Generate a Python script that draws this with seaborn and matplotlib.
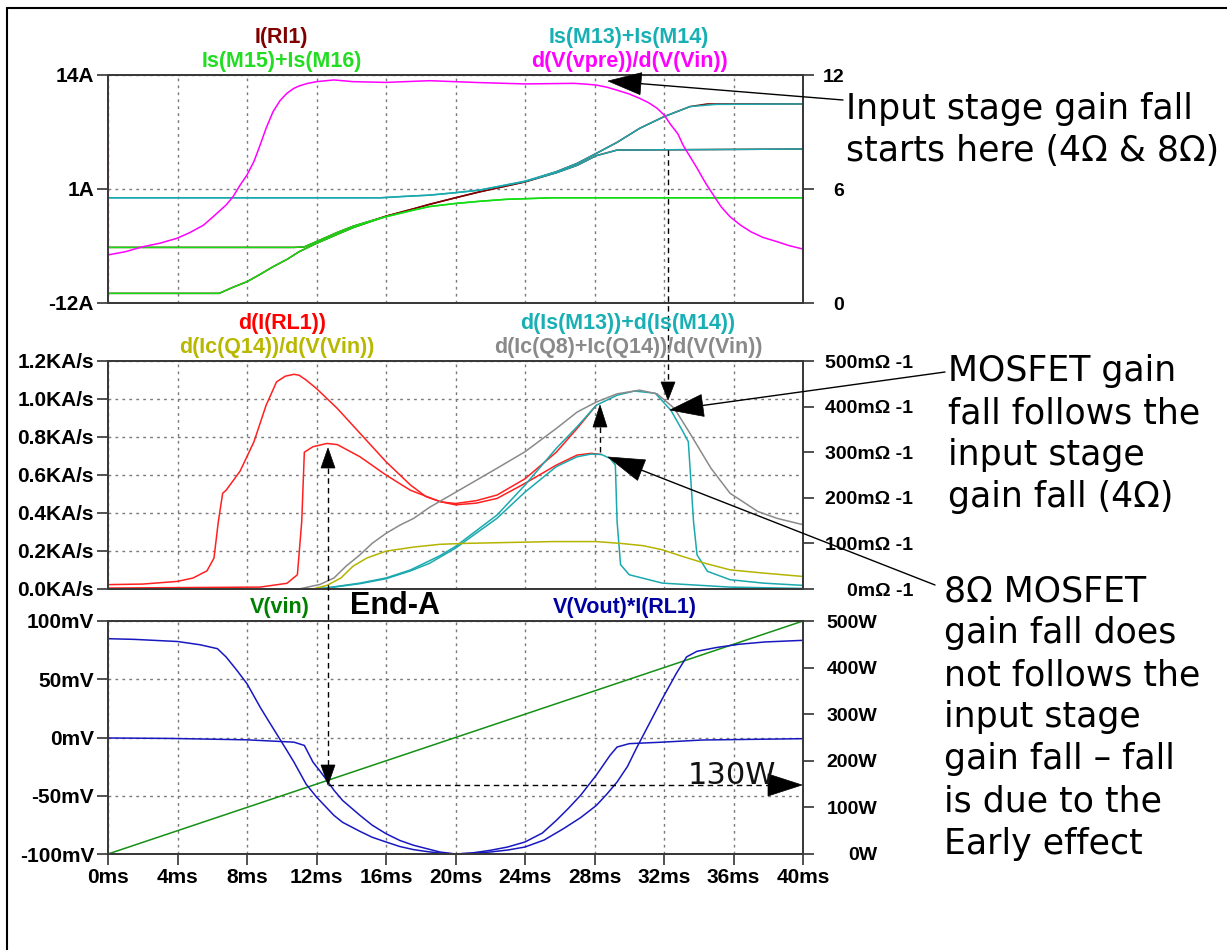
import numpy as np
import pandas as pd
import matplotlib
matplotlib.use("Agg")
import matplotlib.pyplot as plt
import seaborn as sns
from matplotlib.lines import Line2D
from matplotlib.patches import Polygon

# ---------------- data (time in ms) ----------------
# top pane, currents in A (left axis)
t_irl1_4 = [0, 6.4, 7.2, 8.0, 8.75, 9.5, 10.3, 11.0, 12.0, 13.2, 14.1, 15.1, 16.0, 17.6, 18.5, 20.0,
            21.4, 24.0, 25.8, 27.0, 28.1, 29.3, 30.6, 32.0, 33.5, 34.5, 40]
irl1_4 = [-10.9, -10.9, -10.2, -9.57, -8.74, -7.86, -7.03, -6.15, -5.2, -4.17, -3.41, -2.73, -2.1, -1.25,
          -0.75, 0.0, 0.68, 1.83, 2.97, 3.92, 5.06, 6.32, 7.92, 9.25, 10.4, 10.7, 10.7]
t_irl1_8 = [0, 10.7, 11.3, 12.0, 13.2, 14.1, 15.1, 16.0, 17.6, 18.5, 20.0, 21.4, 24.0, 25.8, 27.0, 28.1, 29.3, 40]
irl1_8 = [-5.66, -5.66, -5.6, -5.0, -3.95, -3.25, -2.65, -2.1, -1.25, -0.75, 0.0, 0.68, 1.8, 2.85, 3.7,
          4.8, 5.44, 5.56]

t_m1516_4 = [0, 6.4, 7.2, 8.0, 8.75, 9.5, 10.3, 11.0, 12.0, 13.2, 14.1, 15.1, 16.0, 17.6, 18.5, 20.0,
             21.4, 22.9, 25.6, 40]
m1516_4 = [-10.9, -10.9, -10.2, -9.57, -8.74, -7.86, -7.03, -6.15, -5.2, -4.17, -3.41, -2.73, -2.16, -1.4,
           -1.0, -0.65, -0.4, -0.18, 0.0, 0.0]
t_m1516_8 = [0, 10.7, 11.3, 12.0, 13.2, 14.1, 15.1, 16.0, 17.6, 18.5, 20.0, 21.4, 22.9, 25.6, 40]
m1516_8 = [-5.66, -5.66, -5.6, -5.0, -3.95, -3.25, -2.65, -2.16, -1.4, -1.0, -0.65, -0.4, -0.18, 0.0, 0.0]

t_m1314_4 = [0, 15.7, 17.0, 18.5, 20.0, 21.4, 24.0, 25.8, 27.0, 28.1, 29.3, 30.6, 32.0, 33.5, 35.0, 40]
m1314_4 = [0.0, 0.0, 0.15, 0.3, 0.58, 0.88, 1.9, 2.97, 3.92, 5.06, 6.32, 7.92, 9.25, 10.4, 10.65, 10.7]
t_m1314_8 = [0, 15.7, 17.0, 18.5, 20.0, 21.4, 24.0, 25.8, 27.0, 28.1, 29.3, 40]
m1314_8 = [0.0, 0.0, 0.15, 0.3, 0.58, 0.88, 1.85, 2.85, 3.7, 4.8, 5.44, 5.56]

# top pane, gain d(V(vpre))/d(V(Vin)) (right axis)
t_gain = [0, 0, 0, 1.0, 2.0, 3.0, 3.95, 4.7, 5.5, 6.0, 6.8, 7.2, 7.6, 8.0, 8.4, 8.75, 9.1, 9.5, 9.9,
          10.3, 10.7, 11.05, 11.5, 12.0, 13.0, 14.1, 16.0, 18.5, 21.4, 24.0, 26.8, 27.5, 28.1, 28.7, 29.3,
          30.0, 30.6, 31.1, 31.6, 32.0, 32.4, 32.8, 33.1, 33.5, 33.9, 34.4, 34.9, 35.3, 35.8, 36.4, 37.0,
          37.7, 38.5, 39.2, 40.0]
gain = [0, 8.5, 2.53, 2.7, 2.96, 3.15, 3.4, 3.7, 4.1, 4.5, 5.16, 5.6, 6.2, 6.74, 7.45, 8.3, 9.2, 10.07,
        10.65, 11.04, 11.3, 11.44, 11.56, 11.65, 11.74, 11.65, 11.61, 11.7, 11.6, 11.53, 11.56, 11.52,
        11.47, 11.36, 11.2, 11.0, 10.77, 10.55, 10.25, 9.9, 9.37, 8.9, 8.3, 7.7, 7.1, 6.3, 5.6, 5.05, 4.54,
        4.1, 3.75, 3.45, 3.23, 3.02, 2.84]

# middle pane, KA/s (left axis)
t_dirl_4 = [0, 0, 2.0, 4.0, 4.9, 5.7, 6.1, 6.35, 6.6, 6.8, 7.6, 8.4, 9.1, 9.7, 10.2, 10.7, 11.0, 11.4,
            12.0, 13.2, 14.5, 16.0, 17.4, 18.3, 19.2, 20.0, 21.2, 22.4, 24.0, 25.8, 27.0, 28.1]
dirl_4 = [0.41, 0.023, 0.026, 0.04, 0.058, 0.096, 0.163, 0.355, 0.504, 0.52, 0.62, 0.775, 0.967, 1.09,
          1.12, 1.13, 1.125, 1.10, 1.055, 0.95, 0.82, 0.67, 0.548, 0.486, 0.458, 0.45, 0.465, 0.495, 0.58,
          0.72, 0.845, 0.967]
t_dirl_8 = [0, 8.75, 10.3, 10.9, 11.15, 11.3, 11.8, 12.6, 13.2, 14.5, 16.0, 17.4, 19.1, 20.0, 21.2, 22.4,
            24.0, 25.8, 27.0, 27.8, 28.4]
dirl_8 = [0.005, 0.01, 0.03, 0.075, 0.355, 0.72, 0.749, 0.766, 0.76, 0.696, 0.6, 0.52, 0.46, 0.443,
          0.452, 0.477, 0.556, 0.652, 0.705, 0.714, 0.708]
t_dm_4 = [0, 11.8, 12.6, 14.5, 16.0, 17.4, 19.1, 20.0, 22.4, 24.0, 25.8, 27.0, 28.1, 29.3, 30.3, 31.5,
          31.9, 32.4, 33.1, 33.4, 33.7, 33.9, 34.5, 35.8, 37.7, 40.0]
dm_4 = [0, 0.0, 0.006, 0.031, 0.058, 0.1, 0.175, 0.224, 0.39, 0.547, 0.74, 0.854, 0.967, 1.02, 1.042,
        1.03, 0.99, 0.94, 0.827, 0.775, 0.355, 0.18, 0.093, 0.049, 0.031, 0.019]
t_dm_8 = [0, 11.8, 12.6, 14.5, 16.0, 17.4, 18.5, 20.0, 22.4, 24.0, 25.8, 27.0, 27.8, 28.4, 28.9, 29.2,
          29.3, 29.5, 30.0, 31.9, 35.8, 40.0]
dm_8 = [0, 0.0, 0.005, 0.028, 0.054, 0.095, 0.135, 0.215, 0.373, 0.51, 0.644, 0.696, 0.71, 0.708, 0.687,
        0.652, 0.355, 0.128, 0.075, 0.031, 0.01, 0.003]

# middle pane, mOhm^-1 (right axis)
t_gq814 = [0, 11.0, 12.2, 13.0, 13.7, 14.5, 15.2, 16.0, 16.8, 17.6, 18.5, 20.0, 22.4, 24.0, 25.8, 27.0,
           28.1, 29.3, 30.6, 31.6, 32.6, 33.5, 34.7, 35.8, 37.4, 38.5, 40.0]
gq814 = [0, 0, 10, 24, 50, 75, 100, 122, 140, 155, 179, 212, 265, 301, 352, 388, 410, 428, 436, 428, 396,
         341, 265, 210, 170, 155, 141]
t_gq14 = [0, 0, 0.05, 11.8, 12.6, 13.4, 14.1, 14.9, 16.0, 17.6, 19.1, 20.5, 25.6, 28.1, 29.5, 30.8, 31.9,
          33.1, 34.3, 35.8, 37.7, 40.0]
gq14 = [58, 0, 0, 0, 8, 24, 50, 68, 83, 92, 98, 100, 104, 104, 100, 95, 86, 71, 57, 42, 35, 27.5]

# bottom pane
t_vin = [0, 40]
vin = [-100, 100]  # mV
t_p4 = [0, 1.5, 4.0, 5.3, 6.3, 6.8, 7.4, 8.0, 8.75, 9.2, 9.7, 10.2, 10.7, 11.4, 12.0, 13.0, 13.5, 14.5,
        15.2, 16.0, 16.8, 17.6, 18.4, 19.1, 20.0, 21.0, 22.0, 23.0, 24.0, 25.1, 26.2, 27.2, 28.1, 28.7,
        29.3, 29.9, 30.4, 31.2, 31.9, 32.7, 33.3, 33.9, 35.0, 36.3, 37.8, 40.0]
p4 = [462, 460.6, 456, 449, 440.6, 422.7, 395, 365.5, 315.5, 288, 258, 228, 197.4, 150, 122.3, 83, 68,
      48.6, 36, 25.8, 16, 9.3, 5, 2.1, 0, 1.5, 4.3, 8.5, 15, 30, 54, 78, 104, 128, 154.5, 188, 226, 283,
      333, 387, 423, 435, 443, 450, 455, 458.5]  # W
t_p8 = [0, 3.6, 8.0, 10.7, 11.3, 11.8, 12.2, 12.6, 13.0, 13.5, 14.5, 15.2, 16.0, 16.8, 17.6, 19.1, 20.0,
        21.0, 22.0, 23.0, 24.0, 25.0, 25.8, 26.5, 27.2, 28.1, 28.9, 29.3, 30.0, 31.9, 34.2, 40.0]
p8 = [249, 248, 245, 240, 233, 197, 178, 158, 137, 115, 83, 62, 43.6, 29, 18.6, 4.3, 0, 2.5, 7.9, 15,
      25.8, 45, 72, 98, 126, 169, 212, 229.6, 236.8, 240, 244.6, 247.5]  # W

x_ticks = list(range(0, 41, 4))
x_labels = [f"{v}ms" for v in x_ticks]

# ---------------- figure ----------------
sns.set_theme(style="white")
plt.rcParams["font.family"] = ["Liberation Sans", "DejaVu Sans"]
plt.rcParams["text.color"] = "black"

W, H = 1227, 950
fig = plt.figure(figsize=(W / 100, H / 100), dpi=100)
fig.patch.set_facecolor("white")


def box(x0, y0, x1, y1):
    return [x0 / W, 1 - y1 / H, (x1 - x0) / W, (y1 - y0) / H]


def fpx(x, y):
    return (x / W, 1 - y / H)


ax1 = fig.add_axes(box(108, 75, 803, 303))
ax2 = fig.add_axes(box(108, 361, 803, 589))
ax3 = fig.add_axes(box(108, 621, 803, 854))
ax1r, ax2r, ax3r = ax1.twinx(), ax2.twinx(), ax3.twinx()


def curve(ax, t, v, color):
    sns.lineplot(x=t, y=v, ax=ax, color=color, lw=1.1, estimator=None, sort=False)


# top pane
curve(ax1, t_irl1_4, irl1_4, "#800000")
curve(ax1, t_irl1_8, irl1_8, "#800000")
curve(ax1, t_m1516_4, m1516_4, "#12dd12")
curve(ax1, t_m1516_8, m1516_8, "#12dd12")
curve(ax1, t_m1314_8, m1314_8, "#1aa9ae")
curve(ax1, t_m1314_4, m1314_4, "#1aa9ae")
curve(ax1r, t_gain, gain, "#ff00ff")

# middle pane
curve(ax2r, t_gq14, gq14, "#b4b400")
curve(ax2r, t_gq814, gq814, "#8a8a8a")
curve(ax2, t_dirl_4, dirl_4, "#ff2020")
curve(ax2, t_dirl_8, dirl_8, "#ff2020")
curve(ax2, t_dm_4, dm_4, "#1aa9ae")
curve(ax2, t_dm_8, dm_8, "#1aa9ae")

# bottom pane
curve(ax3, t_vin, vin, "#149014")
curve(ax3r, t_p4, p4, "#1818c0")
curve(ax3r, t_p8, p8, "#1818c0")

tick_font = dict(family="Liberation Sans", weight="bold", size=15)
grid_ls = (0, (2, 3))


def style(ax, axr, lo, hi, yt, ylab, rlo, rhi, rt, rlab, rpad, bottom=False):
    ax.set_xlim(0, 40)
    ax.set_ylim(lo, hi)
    axr.set_ylim(rlo, rhi)
    ax.set_xticks(x_ticks)
    ax.set_yticks(yt)
    ax.set_yticklabels(ylab, fontdict=tick_font)
    axr.set_yticks(rt)
    axr.set_yticklabels(rlab, fontdict=dict(tick_font, size=14))
    for lab in axr.get_yticklabels():
        lab.set_horizontalalignment("right")
    ax.grid(True, color="#7a7a7a", linestyle=grid_ls, lw=1)
    axr.grid(False)
    ax.set_xlabel("")
    ax.set_ylabel("")
    axr.set_ylabel("")
    ax.tick_params(axis="y", left=True, length=8, width=1.2, color="#333333", labelcolor="black", pad=2)
    axr.tick_params(axis="y", right=True, length=8, width=1.2, color="#333333", labelcolor="black", pad=rpad)
    if bottom:
        ax.set_xticklabels(x_labels, fontdict=tick_font)
        ax.tick_params(axis="x", bottom=True, length=8, width=1.2, color="#333333", labelcolor="black", pad=2)
    else:
        ax.set_xticklabels([])
        ax.tick_params(axis="x", bottom=False, length=0)
    for a in (ax, axr):
        for s in a.spines.values():
            s.set_color("#3a3a3a")
            s.set_linewidth(1.4)
        a.set_facecolor("none")


style(ax1, ax1r, -12, 14, [-12, 1, 14], ["-12A", "1A", "14A"],
      0, 12, [0, 6, 12], ["0", "6", "12"], 30 * 0.72)
style(ax2, ax2r, 0, 1.2, [0, 0.2, 0.4, 0.6, 0.8, 1.0, 1.2],
      ["0.0KA/s", "0.2KA/s", "0.4KA/s", "0.6KA/s", "0.8KA/s", "1.0KA/s", "1.2KA/s"],
      0, 500, [0, 100, 200, 300, 400, 500],
      [f"{v}mΩ -1" for v in [0, 100, 200, 300, 400, 500]], 99 * 0.72)
style(ax3, ax3r, -100, 100, [-100, -50, 0, 50, 100], ["-100mV", "-50mV", "0mV", "50mV", "100mV"],
      0, 500, [0, 100, 200, 300, 400, 500], ["0W", "100W", "200W", "300W", "400W", "500W"],
      63 * 0.72, bottom=True)

# ---------------- trace names ----------------
lab_font = dict(family="Liberation Sans", weight="bold", size=15.5, ha="center", va="center")
fig.text(*fpx(281, 37), "I(Rl1)", color="#800000", **lab_font)
fig.text(*fpx(282, 62), "Is(M15)+Is(M16)", color="#22dd22", **lab_font)
fig.text(*fpx(629, 37), "Is(M13)+Is(M14)", color="#18b0b4", **lab_font)
fig.text(*fpx(629, 62), "d(V(vpre))/d(V(Vin))", color="#ff00ff", **lab_font)
fig.text(*fpx(282, 323), "d(I(RL1))", color="#ff0000", **lab_font)
fig.text(*fpx(277, 348), "d(Ic(Q14))/d(V(Vin))", color="#b8b800", **lab_font)
fig.text(*fpx(628, 323), "d(Is(M13))+d(Is(M14))", color="#18b0b4", **lab_font)
fig.text(*fpx(628, 348), "d(Ic(Q8)+Ic(Q14))/d(V(Vin))", color="#8a8a8a", **lab_font)
fig.text(*fpx(280, 607), "V(vin)", color="#008000", **lab_font)
fig.text(*fpx(625, 607), "V(Vout)*I(RL1)", color="#0000a0", **lab_font)
fig.text(*fpx(395, 606), "End-A", color="black", family="Liberation Sans", weight="bold",
         size=22, ha="center", va="center")

# ---------------- notes and arrows ----------------
def line(p, q, dashed=False):
    fig.add_artist(Line2D([p[0] / W, q[0] / W], [1 - p[1] / H, 1 - q[1] / H],
                          transform=fig.transFigure, color="black", lw=1,
                          linestyle=(0, (4, 3)) if dashed else "-"))


def head(tip, frm, length, half):
    tx, ty = tip
    fx, fy = frm
    d = np.hypot(tx - fx, ty - fy)
    ux, uy = (tx - fx) / d, (ty - fy) / d
    bx, by = tx - ux * length, ty - uy * length
    pts = [(tx, ty), (bx - uy * half, by + ux * half), (bx + uy * half, by - ux * half)]
    fig.add_artist(Polygon([fpx(*p) for p in pts], closed=True, transform=fig.transFigure,
                           facecolor="black", edgecolor="black", lw=0.5))
    return (bx, by)


b = head((608, 81), (843, 100), 33, 11)
line(b, (843, 100))
b = head((670, 410), (945, 372), 33, 11)
line(b, (945, 372))
b = head((668, 400), (668, 150), 18, 7)
line((668, 150), b, dashed=True)
b = head((600, 405), (600, 455), 22, 7)
line(b, (600, 455), dashed=True)
b = head((608, 457), (935, 585), 36, 11)
line(b, (935, 585))
b1 = head((328, 448), (328, 785), 20, 7)
b2 = head((328, 785), (328, 448), 20, 7)
line(b1, b2, dashed=True)
b = head((802, 785), (328, 785), 34, 11)
line((328, 785), b, dashed=True)
fig.text(*fpx(732, 775), "130W", family="Liberation Sans Narrow", size=22, ha="center", va="center",
         color="#111111")

note_font = dict(family="DejaVu Sans", size=25, ha="left", va="top", linespacing=1.3, color="black")
fig.text(*fpx(846, 92), "Input stage gain fall\nstarts here (4Ω & 8Ω)", **note_font)
fig.text(*fpx(948, 354), "MOSFET gain\nfall follows the\ninput stage\ngain fall (4Ω)", **note_font)
fig.text(*fpx(944, 574), "8Ω MOSFET\ngain fall does\nnot follows the\ninput stage\ngain fall – fall\n"
         "is due to the\nEarly effect", **note_font)

# outer frame
fig.add_artist(Line2D([7 / W, 1], [1 - 8 / H, 1 - 8 / H], transform=fig.transFigure, color="black", lw=1.5))
fig.add_artist(Line2D([7 / W, 7 / W], [0, 1 - 8 / H], transform=fig.transFigure, color="black", lw=1.5))

fig.savefig("out.png", dpi=100, facecolor="white")
